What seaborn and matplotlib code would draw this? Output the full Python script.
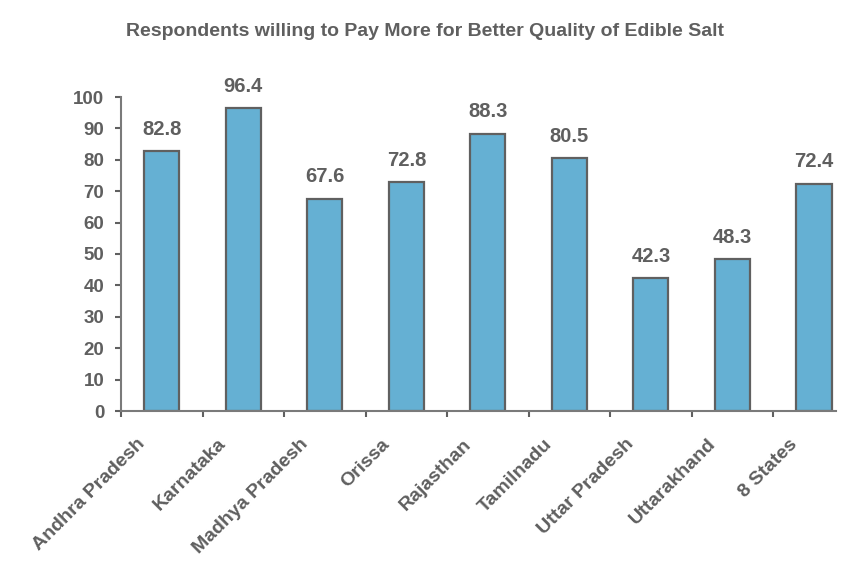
import seaborn as sns
import pandas as pd
import matplotlib.pyplot as plt

states = ['Andhra Pradesh', 'Karnataka', 'Madhya Pradesh', 'Orissa',
          'Rajasthan', 'Tamilnadu', 'Uttar Pradesh', 'Uttarakhand',
          '8 States']
willing_pct = [82.8, 96.4, 67.6, 72.8, 88.3, 80.5, 42.3, 48.3, 72.4]
y_ticks = [0, 10, 20, 30, 40, 50, 60, 70, 80, 90, 100]

GREY = '#5f5f5f'
BAR = '#65B0D3'


def main():
    sns.set_style('white')
    plt.rcParams['font.family'] = ['Liberation Sans', 'DejaVu Sans']
    plt.rcParams['font.weight'] = 'bold'

    df = pd.DataFrame({'state': states, 'pct': willing_pct})
    fig = plt.figure(figsize=(8.5, 5.66), dpi=100)
    ax = fig.add_axes([121 / 850, 1 - 411 / 566, (836 - 121) / 850,
                       (411 - 97) / 566])
    sns.barplot(data=df, x='state', y='pct', color=BAR, width=0.43,
                edgecolor='#606060', linewidth=1.6, saturation=1, ax=ax)

    for i, v in enumerate(willing_pct):
        ax.annotate(f'{v:.1f}', (i, v), xytext=(0, 9),
                    textcoords='offset points', ha='center', va='bottom',
                    fontsize=14.5, fontweight='bold', color=GREY)

    ax.set_xlim(-0.5, 8.27)
    ax.set_ylim(0, 100)
    ax.set_yticks(y_ticks)
    ax.set_yticklabels([str(t) for t in y_ticks], fontsize=13.5,
                       fontweight='bold', color=GREY)
    # labels sit a bit left of and below each bar, like the original
    ax.set_xticks([i - 0.24 for i in range(len(states))])
    ax.set_xticklabels(states, rotation=45, ha='right', va='center',
                       rotation_mode='anchor', fontsize=14,
                       fontweight='bold', color=GREY)
    ax.tick_params(axis='x', length=0, pad=22)
    ax.set_xticks([i - 0.5 for i in range(len(states))], minor=True)
    ax.tick_params(axis='x', which='minor', length=4, width=1.5,
                   color='#606060', bottom=True, direction='out')
    ax.tick_params(axis='y', length=4, width=1.5, color='#606060',
                   left=True, direction='out', pad=8)
    ax.set_xlabel('')
    ax.set_ylabel('')
    sns.despine(ax=ax)
    for side in ['left', 'bottom']:
        ax.spines[side].set_color('#7a7a7a')
        ax.spines[side].set_linewidth(1.5)

    fig.text(0.5, 1 - 32 / 566,
             'Respondents willing to Pay More for Better Quality of Edible Salt',
             ha='center', va='center', fontsize=14, fontweight='bold',
             color=GREY)
    fig.savefig('out.png', dpi=100)


if __name__ == '__main__':
    main()
